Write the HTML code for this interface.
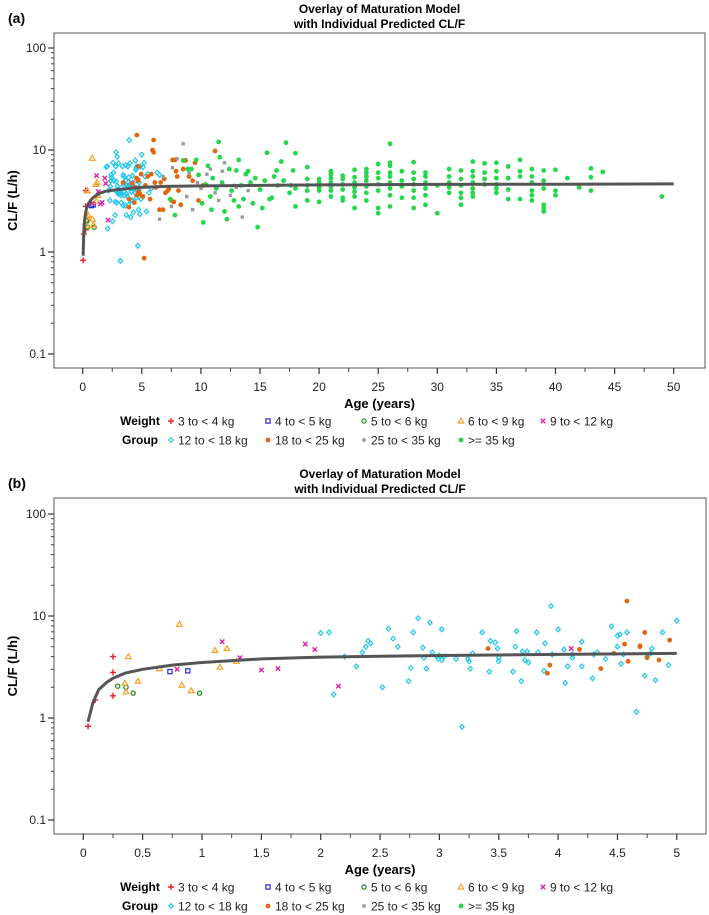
<!DOCTYPE html>
<html><head><meta charset="utf-8">
<style>
html,body{margin:0;padding:0;background:#fff;}
svg{display:block;font-family:"Liberation Sans",Arial,sans-serif;}
</style></head>
<body>
<svg id="chart" width="709" height="915" viewBox="0 0 709 915" xmlns="http://www.w3.org/2000/svg"></svg>
<script>
// ---- data ----
const groupNames = ["3 to < 4 kg","4 to < 5 kg","5 to < 6 kg","6 to < 9 kg","9 to < 12 kg","12 to < 18 kg","18 to < 25 kg","25 to < 35 kg",">= 35 kg"];
const redPts = [[0.04,0.83],[0.1,1.5],[0.25,4.0],[0.25,2.8],[0.25,1.65]];
const bluePts = [[0.73,2.85],[0.88,2.9]];
const dkgreenPts = [[0.29,2.05],[0.36,2.0],[0.42,1.75],[0.98,1.75]];
const orangePts = [[0.35,2.2],[0.36,1.8],[0.38,4.0],[0.46,2.3],[0.64,3.05],[0.81,8.3],[0.83,2.1],[0.91,1.85],[1.11,4.6],[1.15,3.15],[1.21,4.8],[1.29,3.6]];
const magentaPts = [[0.79,3.0],[1.17,5.6],[1.32,3.9],[1.5,2.95],[1.64,3.05],[1.87,5.3],[1.95,4.7],[2.15,2.05],[4.11,4.8]];
const cyanPts = [[2.0,6.8],[2.07,6.9],[2.11,1.7],[2.2,4.0],[2.3,3.2],[2.35,4.4],[2.38,5.0],[2.4,5.7],[2.42,5.4],[2.52,2.0],[2.57,7.5],[2.61,6.0],[2.65,5.0],[2.74,2.3],[2.76,3.1],[2.78,6.9],[2.82,9.5],[2.86,4.9],[2.87,3.9],[2.89,3.05],[2.92,8.6],[2.94,4.4],[2.98,4.0],[2.99,3.8],[3.0,4.1],[3.02,7.4],[3.02,3.7],[3.04,4.0],[3.14,3.8],[3.19,0.82],[3.24,3.8],[3.25,3.6],[3.26,3.05],[3.28,4.3],[3.36,6.9],[3.42,2.85],[3.43,5.7],[3.47,5.5],[3.49,4.8],[3.5,3.9],[3.5,3.6],[3.62,2.85],[3.64,5.0],[3.65,7.1],[3.69,2.3],[3.7,4.5],[3.72,3.7],[3.74,4.5],[3.75,3.5],[3.82,6.9],[3.83,4.4],[3.88,2.9],[3.89,5.4],[3.94,12.5],[3.95,4.2],[4.0,7.4],[4.05,4.7],[4.06,2.2],[4.08,3.2],[4.12,3.9],[4.12,4.2],[4.2,5.6],[4.2,3.2],[4.29,2.45],[4.3,4.2],[4.33,4.4],[4.4,3.8],[4.45,7.9],[4.5,6.4],[4.5,5.0],[4.52,6.6],[4.53,3.4],[4.55,4.2],[4.58,6.9],[4.66,1.15],[4.73,2.6],[4.75,4.0],[4.78,4.3],[4.79,4.8],[4.82,2.35],[4.88,6.9],[4.93,3.3],[5.0,9.0],[5.2,7.5],[5.1,6.8],[5.3,5.5],[5.5,5.8],[6.3,6.0],[6.5,5.7],[5.4,2.5],[5.6,3.8],[5.8,4.2]];
const brownPts = [[3.41,4.8],[3.91,2.75],[3.93,3.3],[4.18,4.7],[4.36,3.05],[4.47,4.3],[4.56,5.3],[4.58,14],[4.59,3.6],[4.69,5.1],[4.69,5.0],[4.73,6.9],[4.75,3.9],[4.85,3.7],[4.94,5.8],[6.0,12.5],[5.9,10],[6.0,9.5],[5.2,0.87],[5.5,5.5],[5.8,5.8],[6.2,4.3],[6.5,2.6],[6.8,2.6],[7.2,4.0],[7.5,3.2],[7.6,8.0],[7.8,8.0],[8.0,5.5],[8.1,4.0],[8.5,6.5],[8.7,7.9],[9.0,5.5],[9.5,7.5],[9.8,3.2],[11.2,9.8],[6.6,4.8],[7.0,3.8],[7.3,4.2],[5.7,3.3],[6.9,5.2],[7.7,3.1],[8.3,2.9],[9.3,5.0],[10.2,4.5],[6.1,4.8],[5.3,4.5],[5.1,3.5],[7.9,6.2]];
const grayPts = [[8.5,11.5],[8.0,8.2],[7.6,6.7],[6.5,2.1],[7.5,2.8],[9.0,6.0],[9.3,2.6],[10.0,4.2],[10.5,5.8],[11.2,3.8],[11.5,3.2],[12.0,7.5],[12.5,3.6],[13.5,2.2],[14.0,4.0],[10.8,6.5],[9.7,4.8],[12.8,4.5],[6.8,5.5],[8.8,3.5],[11.8,6.2],[13.0,4.3]];
const greenPts = [[7.4,3.3],[7.8,2.3],[8.5,7.9],[8.9,6.5],[9.2,6.5],[9.6,8.0],[9.8,5.7],[10.1,3.0],[10.2,1.95],[10.4,4.6],[10.6,7.0],[10.8,3.5],[11.0,5.3],[11.5,12.0],[11.6,8.5],[11.8,4.8],[12.0,2.5],[12.2,2.1],[12.4,6.5],[12.6,4.0],[12.8,3.2],[13.0,6.3],[13.2,8.0],[13.4,4.5],[13.6,3.3],[13.8,5.8],[14.0,6.2],[14.2,4.8],[14.4,3.0],[14.6,5.3],[14.8,1.75],[15.0,4.1],[15.4,5.0],[15.6,9.4],[15.8,3.3],[16.2,5.5],[16.5,4.5],[16.8,7.7],[17.0,5.0],[17.2,11.8],[17.5,3.8],[17.8,6.3],[18.0,9.3],[18.0,4.2],[18.0,2.8],[16.0,3.4],[15.2,2.7],[17.6,4.5],[16.4,6.3],[13.2,2.8],[11.3,4.2],[10.9,2.6],
[19,6.8],[19,5.2],[19,4.5],[19,4.0],[19,3.2],[20,5.2],[20,4.8],[20,4.3],[20,4.0],[20,3.1],
[21,6.2],[21,5.8],[21,5.3],[21,4.8],[21,4.4],[21,4.0],[21,3.5],[22,5.6],[22,5.2],[22,4.6],[22,4.1],[22,3.4],[22,3.2],
[23,6.4],[23,5.4],[23,4.8],[23,4.3],[23,3.9],[23,3.5],[23,2.7],[24,6.5],[24,6.0],[24,5.5],[24,5.0],[24,4.4],[24,3.8],[24,3.2],
[25,7.3],[25,6.0],[25,5.3],[25,4.6],[25,4.0],[25,2.7],[25,2.4],[26,11.5],[26,7.5],[26,7.0],[26,6.0],[26,5.5],[26,4.8],[26,4.2],[26,3.6],[26,2.8],
[27,6.2],[27,5.0],[27,4.4],[27,3.4],[28,7.6],[28,6.0],[28,5.2],[28,4.6],[28,4.0],[28,3.4],[28,2.7],
[29,6.0],[29,5.5],[29,4.8],[29,4.2],[29,3.6],[29,2.9],[30,4.5],[30,2.4],[31,6.5],[31,5.5],[31,4.8],[31,4.3],[31,3.8],
[32,6.3],[32,5.2],[32,4.5],[32,3.8],[32,3.4],[32,2.9],[33,7.7],[33,6.2],[33,5.5],[33,4.8],[33,4.2],[33,3.8],[33,3.5],
[34,7.4],[34,6.0],[34,5.2],[34,4.6],[35,7.5],[35,6.2],[35,5.3],[35,4.6],[35,4.2],[35,3.8],[36,6.9],[36,5.3],[36,4.1],[36,3.3],
[37,8.0],[37,6.2],[37,5.5],[37,3.3],[38,6.5],[38,5.5],[38,4.8],[38,4.0],[38,3.6],[38,3.2],[39,6.3],[39,5.0],[39,4.2],[39,2.9],[39,2.7],[39,2.5],
[40,6.4],[40,4.0],[40,3.6],[41,5.3],[42,4.3],[43,6.6],[43,5.4],[43,4.0],[44,6.1],[49,3.5]];
const curveAge = [0.04,0.08,0.13,0.2,0.25,0.35,0.5,0.75,1,1.5,2,3,4,5,7,10,15,20,30,40,50];
const curveCL = [0.92,1.4,1.9,2.25,2.45,2.75,3.0,3.3,3.5,3.8,3.95,4.1,4.2,4.3,4.4,4.45,4.5,4.55,4.6,4.62,4.65];
const yTickVals = [0.1,1,10,100];
const yTickLabels = ["0.1","1","10","100"];
const xTicksA = [0,5,10,15,20,25,30,35,40,45,50];
const xTicksB = [0,0.5,1,1.5,2,2.5,3,3.5,4,4.5,5];
const xTickLabelsB = ["0","0.5","1","1.5","2","2.5","3","3.5","4","4.5","5"];

const groups = [redPts,bluePts,dkgreenPts,orangePts,magentaPts,cyanPts,brownPts,grayPts,greenPts];
const colors = ["#e8202a","#2828d8","#1e8a1e","#f4a020","#e020a8","#22c8ec","#e0660f","#9a9a9a","#22d84a"];
const shapes = ["plus","square","circle","triangle","x","diamond","dot","sq","dot"];

const NS="http://www.w3.org/2000/svg";
const svg=document.getElementById('chart');
function el(tag,attrs,parent){const e=document.createElementNS(NS,tag);for(const k in attrs)e.setAttribute(k,attrs[k]);(parent||svg).appendChild(e);return e;}
function txt(s,attrs,parent){const t=el('text',attrs,parent);t.textContent=s;return t;}

function marker(g,shape,color,x,y){
  let m;
  if(shape==="plus"){m=el('path',{d:`M${x-3} ${y}H${x+3}M${x} ${y-3}V${y+3}`,stroke:color,'stroke-width':1.4,fill:'none'},g);}
  else if(shape==="x"){m=el('path',{d:`M${x-2.2} ${y-2.2}L${x+2.2} ${y+2.2}M${x-2.2} ${y+2.2}L${x+2.2} ${y-2.2}`,stroke:color,'stroke-width':1.4,fill:'none'},g);}
  else if(shape==="square"){m=el('rect',{x:x-2.1,y:y-2.1,width:4.2,height:4.2,stroke:color,'stroke-width':1.2,fill:'none'},g);}
  else if(shape==="circle"){m=el('circle',{cx:x,cy:y,r:2.1,stroke:color,'stroke-width':1.2,fill:'none'},g);}
  else if(shape==="triangle"){m=el('path',{d:`M${x} ${y-2.8}L${x+2.8} ${y+2}L${x-2.8} ${y+2}Z`,stroke:color,'stroke-width':1.2,fill:'none'},g);}
  else if(shape==="diamond"){m=el('path',{d:`M${x} ${y-2.4}L${x+2.2} ${y}L${x} ${y+2.4}L${x-2.2} ${y}Z`,stroke:color,'stroke-width':1.2,fill:'none'},g);}
  else if(shape==="sq"){m=el('rect',{x:x-1.7,y:y-1.7,width:3.4,height:3.4,fill:color},g);}
  else {m=el('circle',{cx:x,cy:y,r:2.4,fill:color},g);}
  return m;
}

function panel(cfg){
  const g=el('g',{});
  
  
  const {x0,x1,y0,y1,xmax}=cfg;
  const xs=a=>cfg.xz+cfg.xk*a;
  const ys=v=>cfg.yz-102*Math.log10(v);
  const lab=txt(cfg.letter,{x:8,y:y0-10,'font-size':14,'font-weight':'bold'},g);
  
  
  const t1=txt("Overlay of Maturation Model",{x:(x0+x1)/2,y:y0-20,'text-anchor':'middle','font-size':12,'font-weight':'bold'},g);
  
  
  const t2=txt("with Individual Predicted CL/F",{x:(x0+x1)/2,y:y0-5,'text-anchor':'middle','font-size':12,'font-weight':'bold'},g);
  
  
  const fr=el('rect',{x:x0,y:y0,width:x1-x0,height:y1-y0,fill:'none',stroke:'#555','stroke-width':1},g);
  
  
  const yax=el('g',{},g);
  
  
  for(let d=-1;d<2;d++){for(let m=2;m<10;m++){const yy=ys(m*Math.pow(10,d));el('line',{x1:x0-3,x2:x0,y1:yy,y2:yy,stroke:'#444','stroke-width':1},yax);}}
  yTickVals.forEach((v,i)=>{const yy=ys(v);el('line',{x1:x0-6,x2:x0,y1:yy,y2:yy,stroke:'#333','stroke-width':1.2},yax);
    const t=txt(yTickLabels[i],{x:x0-8,y:yy+4,'text-anchor':'end','font-size':12,fill:'#222'},yax);
    
    });
  const yt=txt("CL/F (L/h)",{x:0,y:0,'text-anchor':'middle','font-size':13,'font-weight':'bold',transform:`translate(17,${(y0+y1)/2}) rotate(-90)`},g);
  
  
  const xax=el('g',{},g);
  
  
  cfg.xticks.forEach((v,i)=>{const xx=xs(v);el('line',{x1:xx,x2:xx,y1:y1,y2:y1+6,stroke:'#333','stroke-width':1.2},xax);
    if(i<cfg.xticks.length-1){const mx=xs((v+cfg.xticks[i+1])/2);el('line',{x1:mx,x2:mx,y1:y1,y2:y1+4,stroke:'#444','stroke-width':1},xax);}
    const t=txt(cfg.xlabels[i],{x:xx,y:y1+23,'text-anchor':'middle','font-size':12,fill:'#222'},xax);
    
    });
  const xt=txt("Age (years)",{x:(x0+x1)/2,y:y1+40,'text-anchor':'middle','font-size':13,'font-weight':'bold'},g);
  
  
  groups.forEach((pts,gi)=>{
    const sg=el('g',{},g);
    
    
    pts.forEach(p=>{ if(p[0]>xmax) return;
      const m=marker(sg,shapes[gi],colors[gi],xs(p[0]),ys(p[1]));
      
      });
  });
  let d="";
  curveAge.forEach((a,i)=>{ if(a>xmax) return; d+=(d?"L":"M")+xs(a).toFixed(1)+" "+ys(curveCL[i]).toFixed(1);});
  const c=el('path',{d:d,fill:'none',stroke:'#555','stroke-width':3,'stroke-linejoin':'round'},g);
  
  
  const lg=el('g',{},g);
  
  
  const r1=y1+53, r2=y1+72;
  txt("Weight",{x:140,y:r1+4,'text-anchor':'middle','font-size':12,'font-weight':'bold'},lg);
  txt("Group",{x:140,y:r2+4,'text-anchor':'middle','font-size':12,'font-weight':'bold'},lg);
  const cols=[171,268,364,461,543];
  groupNames.forEach((n,i)=>{
    const row=i<5?r1:r2, cx=cols[i<5?i:i-5];
    const e=el('g',{},lg);
    
    
    marker(e,shapes[i],colors[i],cx,row);
    txt(n,{x:cx+7,y:row+4.5,'font-size':12,fill:'#222'},e);
  });
}
panel({name:'panel-a',letter:'(a)',x0:54,x1:705,y0:33,y1:368,xz:82.7,xk:11.82,yz:252,xmax:60,xticks:xTicksA,xlabels:xTicksA.map(String)});
panel({name:'panel-b',letter:'(b)',x0:54,x1:706,y0:498,y1:834,xz:83.3,xk:118.7,yz:718,xmax:5.05,xticks:xTicksB,xlabels:xTickLabelsB});
</script>
</body></html>
